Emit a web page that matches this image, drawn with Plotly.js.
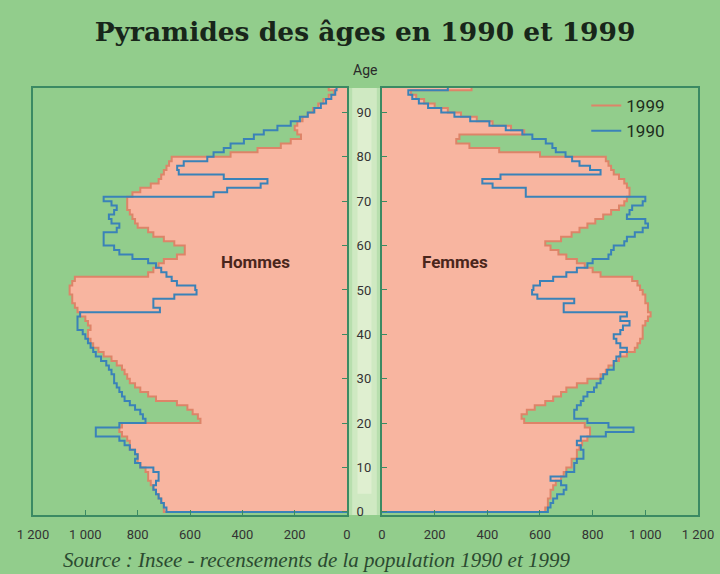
<!DOCTYPE html>
<html>
<head>
<meta charset="utf-8">
<script src="https://cdn.plot.ly/plotly-3.0.1.min.js"></script>
<style>html,body{margin:0;padding:0;background:#92cd8c;}#chart{width:720px;height:574px;}</style>
</head>
<body>
<div id="chart"></div>
<script>
// Ages 0..95 (95 = 95 ans et plus)
const ages = Array.from({length: 96}, (_, i) => i);

const hommes1999 = [700,700,710,720,730,740,750,760,760,770,
  790,800,800,810,830,830,840,860,870,860,
  560,570,590,610,650,730,760,790,810,830,
  840,850,860,880,900,930,950,970,980,990,
  990,980,990,1000,1020,1030,1040,1050,1050,1060,
  1060,1050,1040,760,740,720,700,650,620,620,
  660,700,740,760,800,810,820,830,840,840,
  840,820,790,750,720,710,700,690,680,670,
  445,342,253,215,176,190,200,190,170,150,
  130,110,90,70,50,70];

const hommes1990 = [690,700,710,720,730,740,730,720,720,740,
  790,810,800,810,830,850,870,960,960,870,
  770,780,790,810,830,850,860,870,880,890,
  890,900,910,920,940,960,970,980,990,1000,
  1010,1030,1030,1030,1020,715,740,740,660,575,
  580,650,670,690,710,730,760,820,870,890,
  930,930,930,880,870,900,910,890,880,900,
  930,510,458,330,304,471,643,649,624,534,
  510,471,445,394,356,318,266,215,180,150,
  125,100,80,60,45,40];

const femmes1999 = [620,630,630,640,640,650,660,680,690,700,
  720,720,740,740,750,760,780,790,790,770,
  540,530,550,580,620,650,680,700,740,780,
  830,850,860,880,900,930,960,970,980,990,
  990,990,1000,1010,1020,1010,1010,1000,1000,990,
  980,970,950,830,800,770,740,700,670,640,
  620,680,720,750,780,810,840,870,900,920,
  930,940,940,930,920,900,880,870,860,850,
  600,445,332,282,294,540,490,420,360,300,
  250,200,160,130,110,340];

const femmes1990 = [630,640,650,665,690,700,680,640,700,730,
  730,740,765,765,755,740,755,850,955,860,
  780,730,730,740,755,765,780,805,815,830,
  840,855,880,880,890,905,930,905,890,880,
  905,915,940,905,930,690,690,730,590,570,
  575,600,650,700,740,780,800,860,870,880,
  920,930,960,990,1010,1000,930,940,950,990,
  1000,546,546,420,381,450,830,790,750,722,
  697,660,647,622,571,533,470,408,335,275,
  225,175,140,115,100,250];

const xTicks = [0, 200, 400, 600, 800, 1000, 1200];
const xTickText = ['0', '200', '400', '600', '800', '1 000', '1 200'];
const ageTicks = [0, 10, 20, 30, 40, 50, 60, 70, 80, 90];

const GREEN = '#92cd8c';
const FRAME = '#3b8a63';
const SALMON = '#f8b5a0';
const C1999 = '#dd8468';
const C1990 = '#3a82b8';
const SANS = 'Roboto, "Liberation Sans", sans-serif';

// Step outline of one-year age bars, built from the data arrays
function steps(vals) {
  const xs = [0], ys = [ages[0]];
  vals.forEach((v, i) => { xs.push(v, v); ys.push(ages[i], ages[i] + 1); });
  xs.push(0); ys.push(ages[ages.length - 1] + 1);
  return {x: xs, y: ys};
}

function panel(v99, v90, xa, ya, legend) {
  const s99 = steps(v99), s90 = steps(v90);
  return [
    {type: 'scatter', mode: 'lines', x: s99.x, y: s99.y, xaxis: xa, yaxis: ya,
     fill: 'tozerox', fillcolor: SALMON, line: {width: 0, color: SALMON},
     showlegend: false, hoverinfo: 'skip'},
    {type: 'scatter', mode: 'lines', x: s99.x, y: s99.y, xaxis: xa, yaxis: ya,
     name: '1999', line: {width: 2, color: C1999}, showlegend: legend},
    {type: 'scatter', mode: 'lines', x: s90.x, y: s90.y, xaxis: xa, yaxis: ya,
     name: '1990', line: {width: 2, color: C1990}, showlegend: legend}
  ];
}

const data = [
  ...panel(hommes1999, hommes1990, 'x', 'y', false),
  ...panel(femmes1999, femmes1990, 'x2', 'y2', true)
];

const axisCommon = {
  showgrid: false, zeroline: false, showline: true, mirror: true,
  linecolor: FRAME, linewidth: 2, ticks: 'inside', ticklen: 5,
  tickcolor: FRAME, tickwidth: 1, fixedrange: true
};

const tickFont = {family: SANS, size: 13, color: '#333'};

const layout = {
  width: 720, height: 574,
  margin: {l: 33, r: 22, t: 88, b: 59},
  paper_bgcolor: GREEN, plot_bgcolor: GREEN,
  title: {text: '<b>Pyramides des âges en 1990 et 1999</b>',
          font: {family: '"DejaVu Serif", "Liberation Serif", serif', size: 26.5, color: '#18261a'},
          x: 0.507, xanchor: 'center', y: 0.945, yanchor: 'middle', yref: 'container'},
  xaxis: Object.assign({}, axisCommon, {
    domain: [0, 0.4722], range: [1200, 0], tickvals: xTicks, ticktext: xTickText,
    tickfont: tickFont, ticklabelstandoff: 6}),
  xaxis2: Object.assign({}, axisCommon, {
    domain: [0.5248, 1], range: [0, 1200], tickvals: xTicks, ticktext: xTickText,
    tickfont: tickFont, ticklabelstandoff: 6, anchor: 'y2'}),
  yaxis: Object.assign({}, axisCommon, {
    anchor: 'x', side: 'right', range: [-0.7, 95.5], tickvals: ageTicks,
    tickfont: tickFont, ticklabelstandoff: 5}),
  yaxis2: Object.assign({}, axisCommon, {
    anchor: 'x2', side: 'left', range: [-0.7, 95.5], tickvals: ageTicks,
    showticklabels: false}),
  shapes: [
    {type: 'rect', xref: 'paper', yref: 'paper', x0: 0.4722, x1: 0.5248, y0: 0, y1: 1,
     fillcolor: '#b8dfae', line: {width: 0}, layer: 'below'},
    {type: 'rect', xref: 'paper', yref: 'paper', x0: 0.480, x1: 0.517, y0: 0, y1: 1,
     fillcolor: '#cfe9c2', line: {width: 0}, layer: 'below'},
    {type: 'rect', xref: 'paper', yref: 'paper', x0: 0.488, x1: 0.509, y0: 0.05, y1: 0.95,
     fillcolor: '#dfefd0', line: {width: 0}, layer: 'below'}
  ],
  legend: {x: 0.832, y: 1.0, xanchor: 'left', yanchor: 'top',
           bgcolor: 'rgba(0,0,0,0)', font: {family: SANS, size: 17, color: '#1e2e20'},
           tracegroupgap: 0},
  annotations: [
    {text: 'Age', xref: 'paper', yref: 'paper', x: 0.4985, y: 1.042, yanchor: 'middle', showarrow: false,
     font: {family: SANS, size: 14, color: '#2a2a2a'}},
    {text: '<b>Hommes</b>', xref: 'paper', yref: 'paper', x: 0.334, y: 0.5925, yanchor: 'middle', showarrow: false,
     font: {family: SANS, size: 17, color: '#4a261c'}},
    {text: '<b>Femmes</b>', xref: 'paper', yref: 'paper', x: 0.6346, y: 0.5925, yanchor: 'middle', showarrow: false,
     font: {family: SANS, size: 17, color: '#4a261c'}},
    {text: '<i>Source : Insee - recensements de la population 1990 et 1999</i>',
     xref: 'paper', yref: 'paper', x: 0.4256, y: -0.105, yanchor: 'middle', showarrow: false,
     font: {family: '"Liberation Serif", "DejaVu Serif", serif', size: 21, color: '#2b4a30'}}
  ],
  showlegend: true
};

Plotly.newPlot('chart', data, layout, {displayModeBar: false, staticPlot: true});
</script>
</body>
</html>
